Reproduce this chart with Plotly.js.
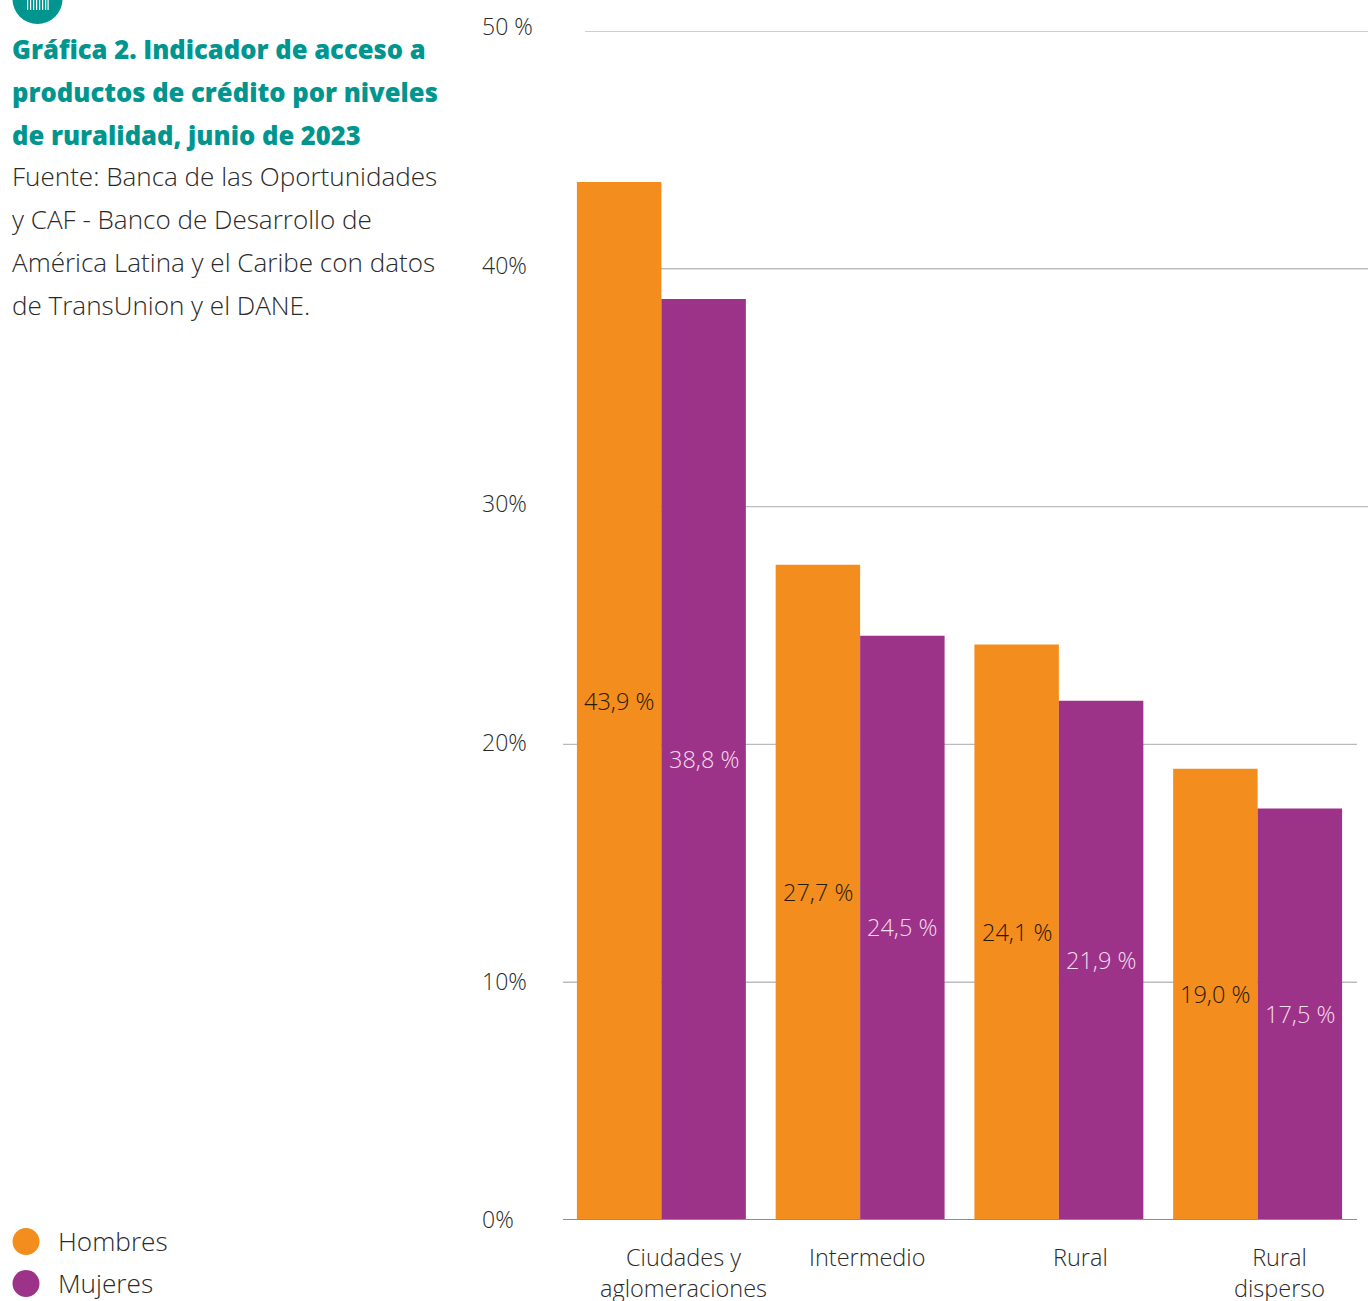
<!DOCTYPE html>
<html lang="es">
<head>
<meta charset="utf-8">
<script src="https://cdn.plot.ly/plotly-3.0.1.min.js"></script>
<style>html,body{margin:0;padding:0;background:#fff}#c{width:1368px;height:1301px}</style>
</head>
<body>
<div id="c"></div>
<script>
const categories = ["Ciudades y<br>aglomeraciones", "Intermedio", "Rural", "Rural<br>disperso"];
const hombres = [43.65, 27.55, 24.2, 18.98];
const mujeres = [38.73, 24.57, 21.84, 17.3];
const hombresLabels = ["43,9 %", "27,7 %", "24,1 %", "19,0 %"];
const mujeresLabels = ["38,8 %", "24,5 %", "21,9 %", "17,5 %"];
const yTickValues = [50, 40, 30, 20, 10, 0];
const yTickLabels = ["50 %", "40%", "30%", "20%", "10%", "0%"];
const titleLines = ["Gráfica 2. Indicador de acceso a", "productos de crédito por niveles", "de ruralidad, junio de 2023"];
const sourceLines = ["Fuente: Banca de las Oportunidades", "y CAF - Banco de Desarrollo de", "América Latina y el Caribe con datos", "de TransUnion y el DANE."];
const legendNames = ["Hombres", "Mujeres"];

const ORANGE = "#f28d1e", PURPLE = "#9d3289", TEAL = "#00968f", TEXT = "#2a2a2a", GRID = "#bcbcbc";
const W = 1368, H = 1301, L = 562, R = 1357, T = 31, B = 1220.5;
const px = x => (x - L) / (R - L);
const py = y => (B - y) / (B - T);
const font = (size, color, weight) => ({family: '"Open Sans", sans-serif', size, color, weight: weight || 300});

const note = (text, x, y, size, color, weight, anchor) => ({
  text, xref: "paper", yref: "paper", x: px(x), y: py(y), showarrow: false,
  xanchor: anchor || "left", yanchor: "middle", align: anchor === "center" ? "center" : "left",
  font: font(size, color, weight), borderpad: 0, borderwidth: 0
});

const annotations = [];
titleLines.forEach((t, i) => annotations.push(note(t, 11.5, 49.5 + i * 43, 25.6, TEAL, 800)));
sourceLines.forEach((t, i) => annotations.push(note(t, 11.5, 176.5 + i * 43, 26.05, TEXT, 300)));
legendNames.forEach((t, i) => annotations.push(note(t, 58, 1242 + i * 42, 26.2, TEXT, 300)));
const yLabelShift = [-5, -4, -4, -2, -1, -1];
yTickValues.forEach((v, i) => annotations.push({
  text: yTickLabels[i], xref: "paper", yref: "y", x: px(481), y: v, yshift: -yLabelShift[i],
  showarrow: false, xanchor: "left", yanchor: "middle", font: font(23, TEXT, 300), borderpad: 0
}));
const xLabelShift = [22, 6.5, 22, 21.5];
categories.forEach((c, i) => annotations.push({
  text: c, xref: "x", yref: "paper", x: i, y: py(1241), xshift: xLabelShift[i],
  showarrow: false, xanchor: "center", yanchor: "top", align: "center", font: font(23.5, TEXT, 300), borderpad: 0
}));
const barLabel = (text, cat, v, dx, color) => ({
  text, xref: "x", yref: "y", x: cat, y: v / 2, xshift: dx, yshift: 0.5,
  showarrow: false, xanchor: "center", yanchor: "middle", font: font(23.5, color, 300), borderpad: 0
});
categories.forEach((c, i) => {
  annotations.push(barLabel(hombresLabels[i], c, hombres[i], -42.25, "#2b1a05"));
  annotations.push(barLabel(mujeresLabels[i], c, mujeres[i], 42.25, "#f3dcec"));
});

const shapes = [];
const gridFrom = [585, 585, 585, 563, 563];
const gridTo = [1368, 1368, 1368, 1357, 1357];
yTickValues.slice(0, 5).forEach((v, i) => shapes.push({
  type: "line", layer: "below", xref: "paper", yref: "y", x0: px(gridFrom[i]), x1: px(gridTo[i]), y0: v, y1: v,
  line: {color: GRID, width: 1.4}
}));
shapes.push({type: "line", layer: "above", xref: "paper", yref: "y", x0: px(563), x1: px(1357), y0: 0, y1: 0, line: {color: "#8e8e8e", width: 2}});
[ORANGE, PURPLE].forEach((col, i) => shapes.push({
  type: "circle", xref: "paper", yref: "paper",
  x0: px(12.5), x1: px(39.5), y0: py(1242 + i * 42 + 13.5), y1: py(1242 + i * 42 - 13.5),
  fillcolor: col, line: {width: 0}
}));
shapes.push({type: "circle", xref: "paper", yref: "paper", x0: px(12.5), x1: px(62.5), y0: py(24), y1: py(-26), fillcolor: TEAL, line: {width: 0}});
[27, 30, 33, 36, 39, 42, 45, 47.5].forEach(x => shapes.push({
  type: "rect", xref: "paper", yref: "paper", x0: px(x), x1: px(x + 1.2), y0: py(10), y1: py(0), fillcolor: "#ffffff", line: {width: 0}
}));

const bar = (name, y, color) => ({
  type: "bar", name, x: categories, y, marker: {color, line: {width: 0}}, cliponaxis: false, hoverinfo: "skip"
});

Plotly.newPlot("c", [
  bar("Hombres", hombres, ORANGE),
  bar("Mujeres", mujeres, PURPLE)
], {
  width: W, height: H, margin: {l: L, r: W - R, t: T, b: H - B, pad: 0},
  paper_bgcolor: "#fff", plot_bgcolor: "rgba(0,0,0,0)", showlegend: false,
  barmode: "group", bargap: 0.15, bargroupgap: 0,
  xaxis: {type: "category", categoryorder: "array", categoryarray: categories, range: [-0.5, 3.5], showticklabels: false, ticks: "", showgrid: false, zeroline: false, showline: false},
  yaxis: {range: [0, 50], tickvals: yTickValues, showticklabels: false, ticks: "", showgrid: false, zeroline: false, showline: false},
  annotations, shapes
}, {displayModeBar: false, staticPlot: true});
</script>
</body>
</html>
